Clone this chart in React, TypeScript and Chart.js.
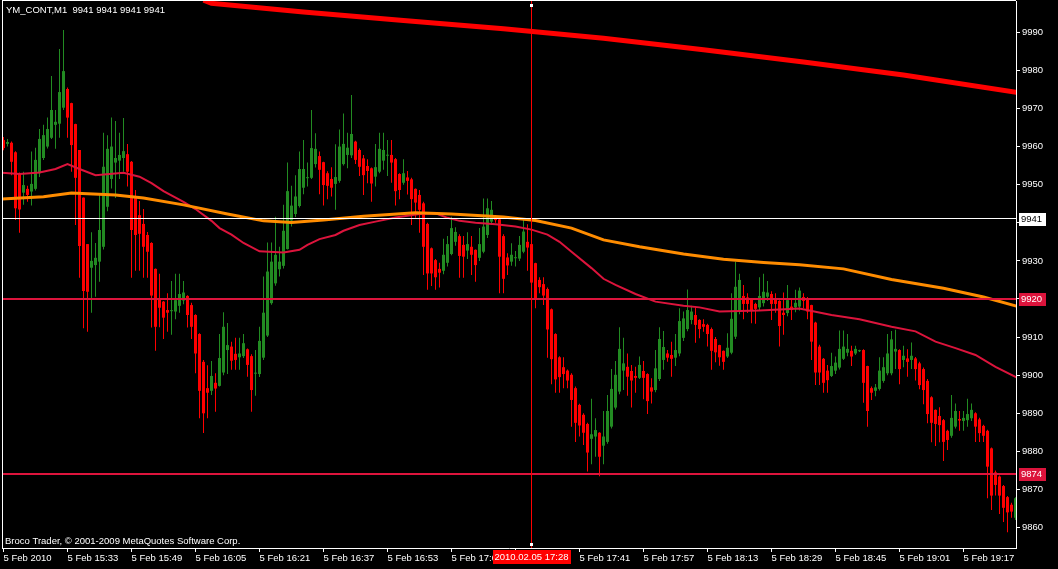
import React, { useEffect, useRef } from "react";
import { Chart, registerables } from "chart.js";

Chart.register(...registerables);

// ---- Data (YM_CONT, M1, 5 Feb 2010, one candle per minute starting 15:17) ----
const opens = [
  9961.7, 9960.7, 9961, 9958.5, 9953, 9947.9, 9948.9, 9948.2, 9948.9, 9953,
  9957, 9960, 9962.3, 9965.7, 9966, 9970.2, 9975.1, 9971.4, 9965.9, 9959.1,
  9946.6, 9934.4, 9928.2, 9928.9, 9929.8, 9933.7, 9944.2, 9951.5, 9955.8, 9956.3,
  9957, 9958, 9956, 9946.9, 9942, 9939.7, 9936.8, 9934.7, 9927.9, 9920,
  9919.3, 9917.1, 9916.8, 9916.7, 9918.2, 9919.6, 9920.8, 9918.4, 9915.8, 9910.8,
  9903.5, 9896.6, 9895.9, 9898, 9897.2, 9900.7, 9906.6, 9907.5, 9905.6, 9904.7,
  9905, 9906.8, 9905, 9900.4, 9900.3, 9904.6, 9910.4, 9918.9, 9924.1, 9927.8,
  9928.7, 9933.1, 9940.6, 9942.3, 9944.4, 9949.2, 9951.7, 9951.8, 9955.4, 9957.5,
  9955.9, 9953, 9951.5, 9950.2, 9951, 9955.4, 9957.8, 9957.7, 9961.3, 9959.1,
  9956.9, 9954.9, 9954.3, 9952.1, 9953.4, 9956.3, 9957.6, 9957.8, 9956.7, 9952.8,
  9950.5, 9951.9, 9951.4, 9948.9, 9947.3, 9945.1, 9939.7, 9933.3, 9930.2, 9927.9,
  9927.4, 9929.5, 9931.8, 9935, 9936.5, 9934.2, 9932.7, 9933.7, 9932.9, 9930.8,
  9932.4, 9936.8, 9940.3, 9941.3, 9940.9, 9936.5, 9930.9, 9929.8, 9930.7, 9930.6,
  9932.4, 9935, 9934.4, 9929.4, 9925, 9923.9, 9922.6, 9917.3, 9910.8, 9904.7,
  9902.1, 9901.2, 9900.1, 9896.6, 9892.2, 9889.6, 9887.2, 9883.3, 9883.9, 9884.9,
  9881.5, 9882.5, 9886.5, 9891.5, 9895.7, 9901.2, 9902.2, 9901.1, 9899.8, 9899.3,
  9901.1, 9900.3, 9896.8, 9896.1, 9899, 9904, 9905.7, 9905.3, 9904.6, 9905.7,
  9909.8, 9912.1, 9914.5, 9915.8, 9914.5, 9913.4, 9913.2, 9912.1, 9909.5, 9907.9,
  9906.4, 9904.9, 9905.9, 9910.1, 9916.9, 9920.8, 9920.4, 9919.9, 9918.7, 9917.8,
  9918.9, 9920.6, 9921.3, 9919.9, 9919.5, 9916.4, 9916.3, 9918, 9917.8, 9918,
  9920.5, 9920.2, 9918.4, 9913.8, 9907.5, 9904.3, 9901.2, 9899.8, 9901.2, 9902,
  9904.3, 9905.9, 9906.4, 9905.7, 9906.3, 9906.6, 9902.4, 9896.6, 9895.9, 9896.4,
  9898.5, 9900.5, 9900.5, 9906.2, 9906.6, 9904, 9904.4, 9904, 9904.4, 9903.1,
  9901.6, 9898.5, 9894.2, 9890.9, 9889.3, 9888.2, 9885.4, 9884.1, 9886.5, 9888.5,
  9888, 9888.2, 9888.7, 9890, 9888.4, 9886.7, 9885.4, 9880.8, 9874.5, 9873.4,
  9870.9, 9868, 9866, 9862.6,
];
const highs = [
  9962.5, 9962, 9961.3, 9958.8, 9953.2, 9953.4, 9949.7, 9958.7, 9959.7, 9964.6,
  9965.7, 9967.6, 9978.5, 9969.6, 9985.6, 9990.6, 9975.5, 9971.5, 9966, 9959.1,
  9946.6, 9934.4, 9937.5, 9934.7, 9947.6, 9963.6, 9963, 9967.6, 9966.7, 9963.6,
  9967.5, 9960.7, 9956.2, 9948.6, 9945.7, 9943.6, 9937.6, 9934.9, 9928, 9926.6,
  9919.5, 9921.5, 9924.7, 9926.6, 9926.6, 9924.7, 9921, 9919, 9916, 9911,
  9904, 9902.6, 9903.7, 9900.5, 9910.8, 9916.5, 9913.7, 9908.8, 9909.8, 9909.8,
  9910.8, 9907, 9905.5, 9906.6, 9912.7, 9925.9, 9934.8, 9934.8, 9941.6, 9933.7,
  9944.7, 9955.8, 9949.7, 9952.5, 9958.7, 9961.7, 9955.8, 9969.6, 9963.5, 9958.7,
  9956, 9953.5, 9954.6, 9960.6, 9964.5, 9968.7, 9963.6, 9973.5, 9961.5, 9959.5,
  9957.8, 9956.7, 9954.5, 9960.7, 9963.6, 9963.6, 9961.7, 9961.7, 9957, 9953,
  9956.7, 9953.6, 9951.8, 9949, 9948.6, 9945.5, 9940, 9933.5, 9930.5, 9929.5,
  9935.8, 9936.5, 9941.6, 9938.8, 9937, 9936.5, 9937.5, 9936.5, 9933, 9938.6,
  9946.4, 9946.4, 9945.7, 9941.8, 9941.3, 9937, 9932, 9934.6, 9932.6, 9936.5,
  9940.7, 9939.6, 9939, 9929.5, 9925.7, 9925.7, 9923, 9917.5, 9911, 9905,
  9904.7, 9901.5, 9900.5, 9897, 9892.5, 9890, 9887.5, 9893.8, 9888.7, 9885,
  9890.6, 9894.8, 9901.6, 9903.7, 9912.6, 9909.8, 9905.7, 9902.7, 9902.2, 9904.9,
  9903.7, 9900.5, 9899.2, 9906.6, 9912.6, 9911.6, 9906.6, 9908.8, 9910.8, 9917.6,
  9916.7, 9922.5, 9918.2, 9917.8, 9914.7, 9914.7, 9913.5, 9912.5, 9910, 9908,
  9906.5, 9911, 9921.5, 9929.8, 9926.6, 9923.7, 9921.5, 9920, 9919, 9925.7,
  9926.6, 9924.7, 9922, 9921.5, 9919.7, 9921.7, 9923.7, 9919.9, 9922.4, 9923,
  9921.5, 9920.5, 9918.5, 9914, 9908, 9904.5, 9902.7, 9905.9, 9904.9, 9911.7,
  9911.7, 9910.8, 9907.7, 9907.7, 9906.7, 9906.8, 9902.5, 9897, 9897.7, 9904.7,
  9904.7, 9910.8, 9911.6, 9911.9, 9906.8, 9907.7, 9906.8, 9908.6, 9904.8, 9903.5,
  9902, 9899, 9894.5, 9891, 9891.6, 9888.5, 9885.7, 9894.8, 9892.6, 9890.6,
  9890.6, 9893.8, 9892.6, 9890.3, 9888.8, 9887, 9885.7, 9881, 9875, 9873.7,
  9871.2, 9868.3, 9866.5, 9868,
];
const lows = [
  9959, 9960, 9952.5, 9940.7, 9937.4, 9944.7, 9945.5, 9944.5, 9948.5, 9952,
  9956.5, 9959.5, 9962, 9959.4, 9962.3, 9969.6, 9962.3, 9953.4, 9939.4, 9925.6,
  9912.3, 9911.4, 9916.4, 9920.6, 9924.5, 9933, 9943, 9949, 9946.5, 9951.5,
  9953.4, 9949.5, 9925.6, 9927.4, 9927.4, 9925.6, 9925.6, 9912.5, 9906.4, 9912.6,
  9909.5, 9911.4, 9910.6, 9914.7, 9916.4, 9918.6, 9912.5, 9909.5, 9900.5, 9888.7,
  9884.8, 9888.7, 9894.8, 9890.4, 9897, 9900, 9900.3, 9901.4, 9901.4, 9901.4,
  9904.5, 9899.6, 9890.4, 9894.6, 9899.5, 9904, 9910, 9918.5, 9923.5, 9925.9,
  9928, 9933, 9939, 9941.5, 9944, 9947.5, 9949.5, 9951.5, 9954.5, 9947.5,
  9944.5, 9946.2, 9946.9, 9943.4, 9950.5, 9955, 9954.3, 9957, 9955.4, 9952.3,
  9947.3, 9950.4, 9945.5, 9949.5, 9953, 9953.9, 9952.3, 9950.5, 9944.5, 9946.2,
  9950, 9947.4, 9939.4, 9941.3, 9937.4, 9926.3, 9922.4, 9923.4, 9922.4, 9923,
  9926.5, 9928.5, 9931.5, 9934, 9925.6, 9925.6, 9930.5, 9926.3, 9924.5, 9930,
  9932, 9936, 9939.5, 9940, 9921.5, 9921.5, 9926.3, 9928.7, 9928.5, 9930,
  9932, 9927.4, 9920.2, 9917.6, 9921.5, 9918.4, 9904.6, 9897.6, 9895.4, 9895.4,
  9896.6, 9896.6, 9886.5, 9882.5, 9883.9, 9881.7, 9874.7, 9876.6, 9878.6, 9873.5,
  9876.6, 9882, 9886, 9891, 9895, 9896.1, 9894.6, 9891.5, 9895.4, 9899,
  9893.7, 9889.8, 9892.6, 9895.5, 9898.5, 9901.4, 9903.5, 9899.6, 9902.4, 9905,
  9909, 9911.5, 9913.4, 9908.5, 9909.7, 9911.4, 9907.5, 9901.4, 9903.4, 9902.5,
  9901.4, 9904.5, 9905.5, 9909.5, 9916, 9914.7, 9916.3, 9913.6, 9913.5, 9917,
  9918, 9919.5, 9914.5, 9916.4, 9907.5, 9910.6, 9915.5, 9914.5, 9916.5, 9917,
  9917.6, 9914.7, 9904, 9897.4, 9897.4, 9895.4, 9895.4, 9899.5, 9900.3, 9901.5,
  9904, 9905, 9902.4, 9905.3, 9906.1, 9892.8, 9886.5, 9893.5, 9894.5, 9896,
  9898, 9900, 9900, 9901.6, 9897.6, 9902.1, 9899.6, 9901.6, 9898.6, 9896.3,
  9892.4, 9887.4, 9882.4, 9881.4, 9882.4, 9877.5, 9880.4, 9883.6, 9886, 9885.4,
  9885.4, 9886.5, 9888, 9882.5, 9882.5, 9882.5, 9867.7, 9864.6, 9868.4, 9863.6,
  9861.5, 9858.8, 9862.6, 9862,
];
const closes = [
  9959.6, 9961.2, 9956, 9943.8, 9943.5, 9949.9, 9947.3, 9950.2, 9956.5, 9962,
  9963, 9964.6, 9969.6, 9966.5, 9974.3, 9979.8, 9967.6, 9960.4, 9951.8, 9933.9,
  9922.1, 9921.9, 9930, 9930.8, 9938.1, 9954.7, 9959.4, 9960, 9957, 9957.8,
  9958.8, 9953.4, 9938.1, 9936.8, 9937.1, 9933.7, 9932.4, 9920.9, 9912.7, 9917.7,
  9915.1, 9916.4, 9917, 9919.7, 9921.3, 9921.7, 9915.8, 9912.7, 9905.7, 9895.9,
  9890, 9895.4, 9899.8, 9896.5, 9904.5, 9912.7, 9907.9, 9903.8, 9904, 9905.7,
  9908.4, 9902.7, 9896.1, 9900.6, 9909, 9916.4, 9927.2, 9929.8, 9931.6, 9929.8,
  9937.9, 9948.3, 9944.5, 9946.9, 9954.1, 9954.1, 9951.9, 9959.6, 9959.4, 9953.9,
  9949.9, 9949.7, 9949.2, 9952, 9960, 9960.7, 9959.7, 9963.3, 9956.5, 9954.7,
  9952.5, 9953.6, 9950.3, 9954.6, 9959.4, 9959.1, 9957.8, 9955.8, 9948.3, 9948.6,
  9953, 9951, 9946.2, 9945.3, 9943.4, 9933.7, 9926.7, 9926.7, 9925.7, 9926.9,
  9931.6, 9934.4, 9938.6, 9937.6, 9931.3, 9931.1, 9934.4, 9931.6, 9928.9, 9934.4,
  9939, 9943.8, 9943.4, 9940.7, 9931.1, 9925.3, 9928.8, 9931.6, 9930.9, 9934.2,
  9937.7, 9933.5, 9924.3, 9920.2, 9923.1, 9920.9, 9912, 9904.2, 9898.9, 9899.5,
  9900.3, 9898.6, 9893.5, 9887.5, 9886.8, 9884.9, 9879.7, 9884.5, 9885.6, 9878.6,
  9883.9, 9890.6, 9896.4, 9900.1, 9906.9, 9903.1, 9899.6, 9898.6, 9899.3, 9902.7,
  9899.3, 9893.2, 9895.7, 9901.8, 9909.5, 9907.4, 9904.6, 9904.3, 9906.6, 9914.2,
  9914.9, 9917.1, 9916.7, 9913.2, 9912.1, 9912.7, 9910.8, 9906.4, 9906, 9904.7,
  9903.5, 9907.2, 9914.8, 9923.2, 9925, 9918.7, 9918.7, 9917.1, 9917.4, 9920.8,
  9921.9, 9921.7, 9918.7, 9918.7, 9912.9, 9915.8, 9919.7, 9917.1, 9919, 9922.2,
  9919.5, 9916.7, 9908.8, 9900.7, 9900.7, 9898, 9898.7, 9902.4, 9903.3, 9906.9,
  9907.5, 9906.9, 9904.9, 9906.9, 9906.5, 9898, 9890.6, 9895.4, 9896.8, 9901.2,
  9902.1, 9905.7, 9909.4, 9906.9, 9901.6, 9905.1, 9903.5, 9905.1, 9901.6, 9897.4,
  9896.1, 9889.8, 9887.5, 9887.2, 9886.9, 9882.5, 9883, 9888.8, 9890.6, 9888.1,
  9888.8, 9889.8, 9890.9, 9886.5, 9884.8, 9884.1, 9876, 9868.4, 9871.2, 9868.4,
  9865.2, 9864, 9864.2, 9867.7,
];

// time axis ticks (candle index -> label)
const timeTickIdx = [0, 16, 32, 48, 64, 80, 96, 112, 128, 144, 160, 176, 192, 208, 224, 240];
const timeTickLabels = [
  "5 Feb 2010", "5 Feb 15:33", "5 Feb 15:49", "5 Feb 16:05", "5 Feb 16:21", "5 Feb 16:37",
  "5 Feb 16:53", "5 Feb 17:09", "5 Feb 17:25", "5 Feb 17:41", "5 Feb 17:57", "5 Feb 18:13",
  "5 Feb 18:29", "5 Feb 18:45", "5 Feb 19:01", "5 Feb 19:17",
];
const priceTicks = [9860, 9870, 9880, 9890, 9900, 9910, 9920, 9930, 9940, 9950, 9960, 9970, 9980, 9990];

// moving averages, read at sample candles
const slowMaIdx = [50, 52, 75, 100, 125, 150, 175, 200, 225, 254];
const slowMaVal = [9998.4, 9997.6, 9995.3, 9993.1, 9990.9, 9988.4, 9985.4, 9982.2, 9978.8, 9974.1];

const midMaIdx = [-1, 10, 17, 28, 35, 45, 56, 65, 72, 80, 90, 103, 112, 125, 133, 142, 150, 159, 170, 180, 190, 199, 210, 222, 235, 245, 254];
const midMaVal = [9946.2, 9946.8, 9947.8, 9947.3, 9946.5, 9944.7, 9942.3, 9940.5, 9940.1, 9940.7, 9941.7, 9942.6, 9942.3, 9941.5, 9940.6, 9938.6, 9935.5, 9933.7, 9931.8, 9930.4, 9929.6, 9929.0, 9927.9, 9925.1, 9922.8, 9920.5, 9917.9];

const fastMaIdx = [-1, 4, 9, 13, 16, 19, 23, 30, 34, 37, 40, 45, 48, 52, 54, 57, 60, 64, 70, 74, 76, 79, 83, 85, 89, 93, 98, 104, 108, 111, 114, 118, 123, 128, 132, 136, 139, 142, 147, 150, 153, 158, 163, 170, 174, 179, 189, 199, 207, 214, 222, 228, 233, 238, 243, 248, 254];
const fastMaVal = [9953.2, 9952.8, 9953.2, 9954.1, 9955.4, 9954.1, 9952.5, 9953.1, 9952.1, 9950.4, 9948.3, 9945.5, 9943.6, 9940.5, 9938.6, 9936.9, 9934.7, 9932.5, 9932.2, 9932.9, 9934.2, 9935.7, 9936.8, 9937.9, 9939.4, 9940.3, 9941.4, 9942.3, 9942.5, 9941.3, 9940.5, 9940.0, 9939.6, 9939.0, 9938.2, 9936.9, 9935.0, 9932.4, 9928.1, 9925.3, 9923.7, 9921.3, 9919.3, 9918.2, 9917.8, 9916.7, 9917.0, 9917.5, 9915.8, 9914.7, 9912.7, 9911.5, 9908.8, 9907.1, 9905.3, 9902.2, 9899.0];

const bidPrice = 9941;
const levelPrices = [9920, 9874];
const vLineIdx = 132;
const vLineLabel = "2010.02.05 17:28";
const titleText = "YM_CONT,M1  9941 9941 9941 9941";
const copyrightText = "Broco Trader, \u00A9 2001-2009 MetaQuotes Software Corp.";

// ---- Styles ----
const UP = "#228B22";
const DOWN = "#FF0000";
const LEVEL = "#DC143C";
const FONT_FAMILY = "'Liberation Sans', Arial, sans-serif";
const FONT_SIZE = 9.5;
const FONT = `${FONT_SIZE}px ${FONT_FAMILY}`;

const mtPlugin = {
  id: "mt4",
  beforeDraw(chart: any) {
    const ctx = chart.ctx;
    ctx.save();
    ctx.fillStyle = "#000";
    ctx.fillRect(0, 0, chart.width, chart.height);
    ctx.restore();
  },
  afterDatasetsDraw(chart: any) {
    const { ctx, chartArea: a } = chart;
    const xs = chart.scales.x;
    const ys = chart.scales.y;
    ctx.save();
    ctx.beginPath();
    ctx.rect(a.left, a.top, a.right - a.left, a.bottom - a.top);
    ctx.clip();

    const yBid = Math.floor(ys.getPixelForValue(bidPrice)) + 0.5;
    ctx.strokeStyle = "#FFFFFF";
    ctx.lineWidth = 1;
    ctx.beginPath();
    ctx.moveTo(a.left, yBid);
    ctx.lineTo(a.right, yBid);
    ctx.stroke();

    ctx.strokeStyle = LEVEL;
    ctx.lineWidth = 2;
    for (const p of levelPrices) {
      const yy = Math.round(ys.getPixelForValue(p));
      ctx.beginPath();
      ctx.moveTo(a.left, yy);
      ctx.lineTo(a.right, yy);
      ctx.stroke();
    }

    const xv = Math.floor(xs.getPixelForValue(vLineIdx)) + 0.5;
    ctx.strokeStyle = "#FF0000";
    ctx.lineWidth = 1;
    ctx.beginPath();
    ctx.moveTo(xv, a.top);
    ctx.lineTo(xv, a.bottom);
    ctx.stroke();
    ctx.fillStyle = "#FFFFFF";
    ctx.fillRect(xv - 1.5, a.top + 3, 3, 3);
    ctx.fillRect(xv - 1.5, a.bottom - 5, 3, 3);

    ctx.font = FONT;
    ctx.fillStyle = "#FFFFFF";
    ctx.textAlign = "left";
    ctx.textBaseline = "middle";
    ctx.fillText(titleText, 6, 10);
    ctx.fillText(copyrightText, 5, 541);
    ctx.restore();
  },
  afterDraw(chart: any) {
    const { ctx, chartArea: a } = chart;
    const xs = chart.scales.x;
    const ys = chart.scales.y;
    ctx.save();
    // frame (left / top)
    ctx.strokeStyle = "#FFFFFF";
    ctx.lineWidth = 1;
    ctx.beginPath();
    ctx.moveTo(2.5, 0);
    ctx.lineTo(2.5, a.bottom);
    ctx.moveTo(2, 0.5);
    ctx.lineTo(a.right, 0.5);
    ctx.stroke();

    ctx.font = FONT;
    ctx.textAlign = "left";
    ctx.textBaseline = "middle";
    const tag = (price: number, bg: string, fg: string) => {
      const yy = Math.round(ys.getPixelForValue(price));
      ctx.fillStyle = bg;
      ctx.fillRect(a.right + 3, yy - 6, 27, 13);
      ctx.fillStyle = fg;
      ctx.fillText(String(price), a.right + 5, yy + 0.5);
    };
    tag(bidPrice, "#FFFFFF", "#000000");
    for (const p of levelPrices) tag(p, LEVEL, "#FFFFFF");

    const xv = Math.floor(xs.getPixelForValue(vLineIdx)) + 0.5;
    const w = Math.ceil(ctx.measureText(vLineLabel).width) + 4;
    ctx.fillStyle = "#FF0000";
    ctx.fillRect(Math.round(xv - w / 2), a.bottom + 2, w, 14);
    ctx.fillStyle = "#FFFFFF";
    ctx.textAlign = "center";
    ctx.fillText(vLineLabel, xv, a.bottom + 9.5);
    ctx.restore();
  },
};

export default function App() {
  const ref = useRef<HTMLCanvasElement | null>(null);

  useEffect(() => {
    const canvas = ref.current;
    if (!canvas) return;
    const colors = closes.map((c, i) => (c >= opens[i] ? UP : DOWN));
    const chart = new Chart(canvas, {
      type: "bar",
      data: {
        datasets: [
          {
            type: "line",
            label: "MA slow",
            data: slowMaIdx.map((x, i) => ({ x, y: slowMaVal[i] })),
            borderColor: "#FF0000",
            borderWidth: 5,
            pointRadius: 0,
            tension: 0,
            clip: 0,
            order: 0,
          } as any,
          {
            type: "line",
            label: "MA mid",
            data: midMaIdx.map((x, i) => ({ x, y: midMaVal[i] })),
            borderColor: "#FF8C00",
            borderWidth: 3,
            pointRadius: 0,
            tension: 0,
            clip: 0,
            order: 0,
          } as any,
          {
            type: "line",
            label: "MA fast",
            data: fastMaIdx.map((x, i) => ({ x, y: fastMaVal[i] })),
            borderColor: LEVEL,
            borderWidth: 2,
            pointRadius: 0,
            tension: 0,
            clip: 0,
            order: 0,
          } as any,
          {
            type: "bar",
            label: "wick",
            data: highs.map((h, i) => ({ x: i, y: [lows[i], h] })),
            backgroundColor: colors,
            barThickness: 1,
            grouped: false,
            inflateAmount: 0,
            clip: 0,
            order: 2,
          } as any,
          {
            type: "bar",
            label: "body",
            data: opens.map((o, i) => ({ x: i, y: [o, closes[i]] })),
            backgroundColor: colors,
            barThickness: 3,
            minBarLength: 1,
            grouped: false,
            inflateAmount: 0,
            clip: 0,
            order: 1,
          } as any,
        ],
      },
      options: {
        responsive: false,
        maintainAspectRatio: false,
        devicePixelRatio: 1,
        animation: false,
        events: [],
        layout: { padding: { left: 2, top: 1, right: 0, bottom: 0 } },
        plugins: { legend: { display: false }, tooltip: { enabled: false } },
        scales: {
          x: {
            type: "linear",
            position: "bottom",
            min: -0.375,
            max: 253.125,
            offset: false,
            afterBuildTicks: (s: any) => {
              s.ticks = timeTickIdx.map((v) => ({ value: v }));
            },
            afterFit: (s: any) => {
              s.height = 21;
              s.paddingLeft = 0;
              s.paddingRight = 0;
            },
            ticks: {
              color: "#FFFFFF",
              font: { family: FONT_FAMILY, size: FONT_SIZE },
              align: "start",
              maxRotation: 0,
              autoSkip: false,
              padding: 1,
              callback: (v: any) => {
                const i = timeTickIdx.indexOf(Number(v));
                return i >= 0 ? timeTickLabels[i] : "";
              },
            },
            grid: { drawOnChartArea: false, drawTicks: true, tickLength: 4, color: "#FFFFFF", offset: false },
            border: { color: "#FFFFFF", width: 1 },
          },
          y: {
            type: "linear",
            position: "right",
            min: 9854.65,
            max: 9998.2,
            afterBuildTicks: (s: any) => {
              s.ticks = priceTicks.map((v) => ({ value: v }));
            },
            afterFit: (s: any) => {
              s.width = 42;
              s.paddingTop = 0;
              s.paddingBottom = 0;
            },
            ticks: {
              color: "#FFFFFF",
              font: { family: FONT_FAMILY, size: FONT_SIZE },
              padding: 2,
              crossAlign: "near",
              callback: (v: any) => String(v),
            },
            grid: { drawOnChartArea: false, drawTicks: true, tickLength: 4, color: "#FFFFFF" },
            border: { color: "#FFFFFF", width: 1 },
          },
        },
      } as any,
      plugins: [mtPlugin],
    });
    return () => chart.destroy();
  }, []);

  return (
    <div style={{ position: "fixed", left: 0, top: 0, width: 1058, height: 569, background: "#000" }}>
      <canvas ref={ref} width={1058} height={569} style={{ width: 1058, height: 569, display: "block" }} />
    </div>
  );
}
